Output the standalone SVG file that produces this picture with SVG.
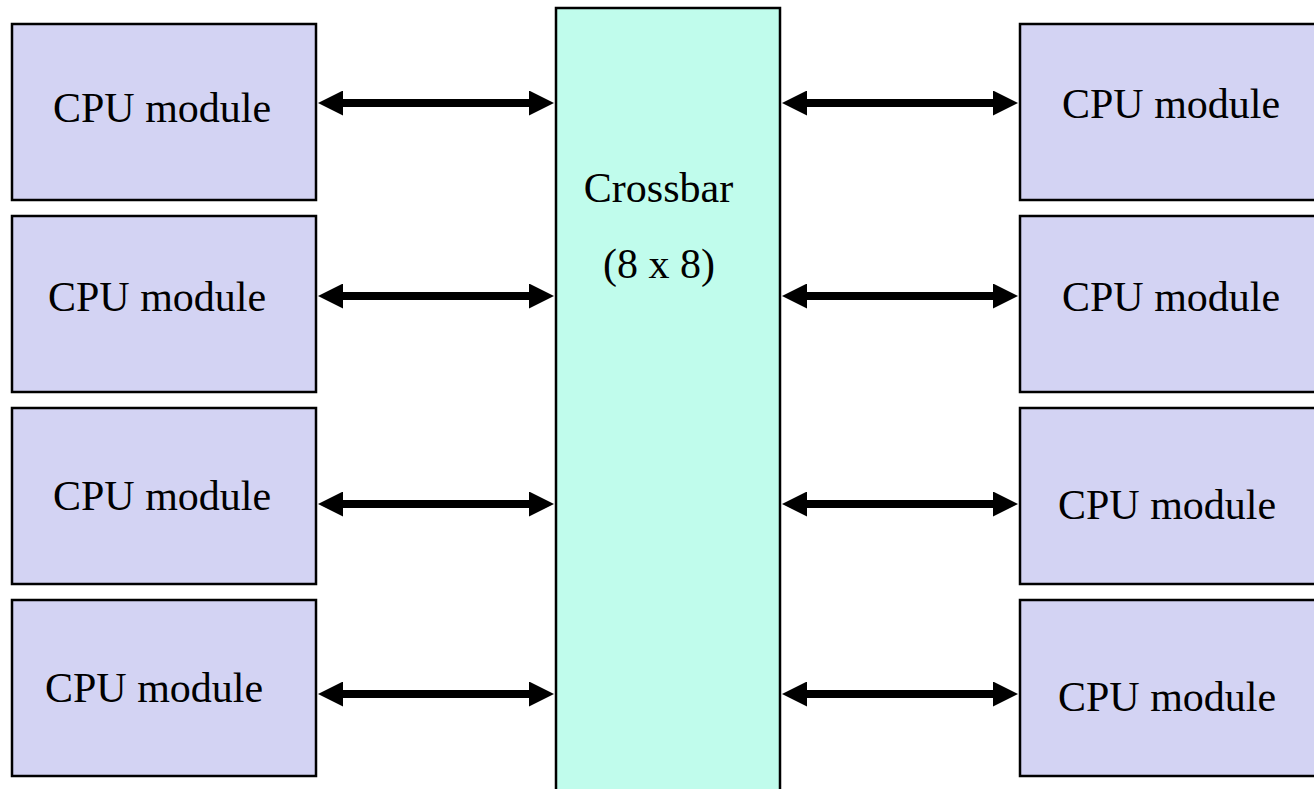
<svg xmlns="http://www.w3.org/2000/svg" width="1314" height="789" viewBox="0 0 1314 789">
  <style>
    .cpu { fill: #d3d3f3; stroke: #000; stroke-width: 2.5; }
    .xbar { fill: #c0fcec; stroke: #000; stroke-width: 2.5; }
    .lbl { font-family: "Liberation Serif", "Times New Roman", serif; font-size: 42px; fill: #000; }
    .link { stroke: #000; stroke-width: 8; fill: none; marker-start: url(#head); marker-end: url(#head); }
  </style>
  <defs>
    <marker id="head" markerUnits="userSpaceOnUse" markerWidth="25" markerHeight="25" refX="2" refY="12.5" orient="auto-start-reverse" viewBox="0 0 25 25">
      <path d="M0,0 L25,12.5 L0,25 z" fill="#000"/>
    </marker>
  </defs>
  <rect width="1314" height="789" fill="#fff"/>

  <!-- central switch -->
  <g id="crossbar">
    <rect class="xbar" x="556" y="8" width="224" height="800"/>
    <text class="lbl" x="658.5" y="202" text-anchor="middle">Crossbar</text>
    <text class="lbl" x="659" y="278" text-anchor="middle">(8 x 8)</text>
  </g>

  <!-- left column -->
  <g id="cpu-l1">
    <rect class="cpu" x="12" y="24" width="304" height="176"/>
    <text class="lbl" x="53" y="122">CPU module</text>
  </g>
  <g id="cpu-l2">
    <rect class="cpu" x="12" y="216" width="304" height="176"/>
    <text class="lbl" x="48" y="311">CPU module</text>
  </g>
  <g id="cpu-l3">
    <rect class="cpu" x="12" y="408" width="304" height="176"/>
    <text class="lbl" x="53" y="510">CPU module</text>
  </g>
  <g id="cpu-l4">
    <rect class="cpu" x="12" y="600" width="304" height="176"/>
    <text class="lbl" x="45" y="702">CPU module</text>
  </g>

  <!-- right column -->
  <g id="cpu-r1">
    <rect class="cpu" x="1020" y="24" width="300" height="176"/>
    <text class="lbl" x="1062" y="118">CPU module</text>
  </g>
  <g id="cpu-r2">
    <rect class="cpu" x="1020" y="216" width="300" height="176"/>
    <text class="lbl" x="1062" y="311">CPU module</text>
  </g>
  <g id="cpu-r3">
    <rect class="cpu" x="1020" y="408" width="300" height="176"/>
    <text class="lbl" x="1058" y="519">CPU module</text>
  </g>
  <g id="cpu-r4">
    <rect class="cpu" x="1020" y="600" width="300" height="176"/>
    <text class="lbl" x="1058" y="711">CPU module</text>
  </g>

  <!-- bidirectional links -->
  <g id="links">
    <line class="link" x1="341" y1="103" x2="531" y2="103"/>
    <line class="link" x1="341" y1="296" x2="531" y2="296"/>
    <line class="link" x1="341" y1="504" x2="531" y2="504"/>
    <line class="link" x1="341" y1="694" x2="531" y2="694"/>
    <line class="link" x1="805" y1="103" x2="995" y2="103"/>
    <line class="link" x1="805" y1="296" x2="995" y2="296"/>
    <line class="link" x1="805" y1="504" x2="995" y2="504"/>
    <line class="link" x1="805" y1="694" x2="995" y2="694"/>
  </g>
</svg>
